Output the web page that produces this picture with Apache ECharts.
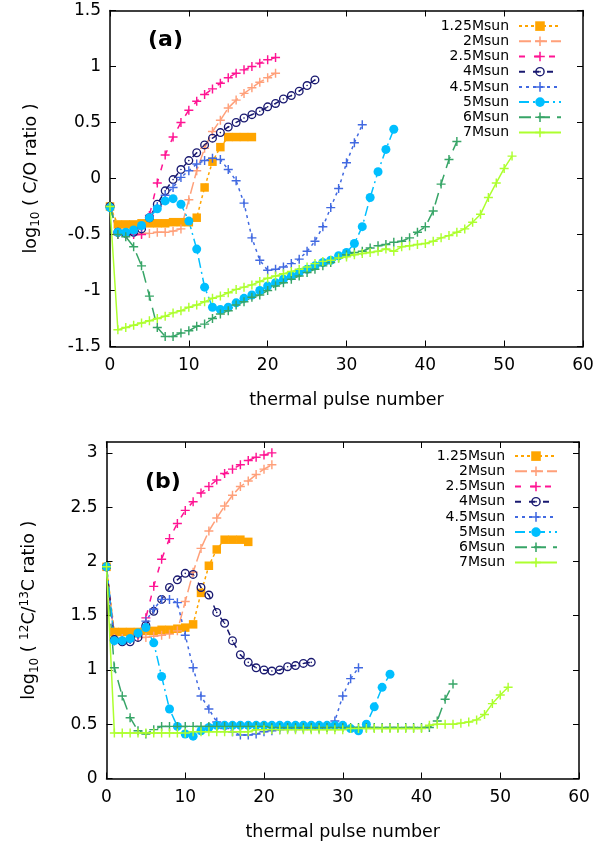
<!DOCTYPE html>
<html>
<head>
<meta charset="utf-8">
<script src="https://cdn.jsdelivr.net/npm/echarts@6/dist/echarts.min.js"></script>
<style>
html, body { margin: 0; padding: 0; background: #fff; }
#chart { width: 614px; height: 844px; }
</style>
</head>
<body>
<div id="chart"></div>
<script>
// legend names (one per stellar mass)
var masses = ["1.25Msun", "2Msun", "2.5Msun", "4Msun", "4.5Msun", "5Msun", "6Msun", "7Msun"];
var xTicks = [0, 10, 20, 30, 40, 50, 60];

// panel (a): log10 C/O, index = thermal pulse number
var co125 = [-0.25, -0.41, -0.41, -0.41, -0.40, -0.40, -0.40, -0.40, -0.39, -0.39, -0.39, -0.35, -0.08, 0.15, 0.28, 0.37, 0.37, 0.37, 0.37];
var co2 = [-0.25, -0.49, -0.49, -0.49, -0.49, -0.49, -0.48, -0.48, -0.47, -0.45, -0.19, 0.07, 0.27, 0.42, 0.52, 0.63, 0.70, 0.76, 0.81, 0.86, 0.90, 0.94];
var co25 = [-0.25, -0.50, -0.50, -0.50, -0.50, -0.33, -0.04, 0.21, 0.37, 0.50, 0.61, 0.69, 0.75, 0.80, 0.85, 0.90, 0.94, 0.97, 1.00, 1.03, 1.06, 1.08];
var co4 = [-0.25, -0.48, -0.49, -0.48, -0.45, -0.35, -0.23, -0.11, -0.01, 0.08, 0.16, 0.23, 0.30, 0.36, 0.41, 0.46, 0.50, 0.54, 0.57, 0.60, 0.64, 0.67, 0.71, 0.74, 0.78, 0.83, 0.88];
var co45 = [-0.25, -0.48, -0.49, -0.48, -0.44, -0.35, -0.25, -0.15, -0.08, 0.01, 0.07, 0.13, 0.16, 0.18, 0.17, 0.08, -0.02, -0.22, -0.53, -0.73, -0.82, -0.81, -0.79, -0.76, -0.72, -0.65, -0.56, -0.43, -0.26, -0.09, 0.14, 0.32, 0.48];
var co5 = [-0.26, -0.48, -0.48, -0.46, -0.42, -0.35, -0.27, -0.20, -0.18, -0.23, -0.38, -0.63, -0.97, -1.15, -1.17, -1.15, -1.11, -1.07, -1.04, -1.00, -0.96, -0.93, -0.90, -0.87, -0.84, -0.81, -0.78, -0.75, -0.73, -0.69, -0.66, -0.58, -0.43, -0.17, 0.06, 0.26, 0.44];
var co6 = [-0.25, -0.50, -0.52, -0.61, -0.78, -1.05, -1.33, -1.41, -1.41, -1.38, -1.36, -1.32, -1.30, -1.25, -1.21, -1.18, -1.13, -1.10, -1.06, -1.04, -1.00, -0.96, -0.93, -0.90, -0.87, -0.84, -0.81, -0.78, -0.75, -0.71, -0.68, -0.66, -0.65, -0.62, -0.60, -0.59, -0.57, -0.56, -0.53, -0.48, -0.43, -0.29, -0.05, 0.17, 0.33];
var co7 = [-0.25, -1.35, -1.33, -1.31, -1.29, -1.27, -1.25, -1.23, -1.20, -1.18, -1.15, -1.13, -1.10, -1.07, -1.05, -1.02, -0.99, -0.97, -0.95, -0.92, -0.89, -0.87, -0.85, -0.83, -0.81, -0.79, -0.76, -0.74, -0.73, -0.71, -0.70, -0.68, -0.67, -0.66, -0.65, -0.63, -0.65, -0.61, -0.60, -0.59, -0.58, -0.56, -0.53, -0.51, -0.48, -0.45, -0.39, -0.32, -0.17, -0.04, 0.09, 0.20];

// panel (b): log10 12C/13C
var cc125 = [1.95, 1.35, 1.35, 1.35, 1.35, 1.36, 1.36, 1.37, 1.37, 1.38, 1.39, 1.42, 1.71, 1.96, 2.11, 2.20, 2.20, 2.20, 2.18];
var cc2 = [1.95, 1.29, 1.29, 1.29, 1.30, 1.30, 1.31, 1.32, 1.33, 1.36, 1.63, 1.90, 2.12, 2.28, 2.40, 2.51, 2.61, 2.69, 2.74, 2.80, 2.85, 2.89];
var cc25 = [1.95, 1.27, 1.27, 1.28, 1.32, 1.48, 1.77, 2.02, 2.21, 2.35, 2.47, 2.55, 2.63, 2.69, 2.75, 2.81, 2.85, 2.89, 2.93, 2.96, 2.98, 3.00];
var cc4 = [1.95, 1.28, 1.26, 1.26, 1.30, 1.41, 1.54, 1.65, 1.76, 1.83, 1.89, 1.88, 1.76, 1.69, 1.53, 1.43, 1.27, 1.14, 1.07, 1.02, 1.00, 0.99, 1.00, 1.03, 1.04, 1.06, 1.07];
var cc45 = [1.95, 1.27, 1.27, 1.28, 1.33, 1.45, 1.56, 1.65, 1.65, 1.62, 1.32, 1.02, 0.76, 0.64, 0.52, 0.46, 0.43, 0.40, 0.40, 0.41, 0.43, 0.44, 0.45, 0.46, 0.46, 0.46, 0.46, 0.46, 0.47, 0.53, 0.76, 0.92, 1.02];
var cc5 = [1.95, 1.27, 1.27, 1.29, 1.34, 1.39, 1.25, 0.94, 0.64, 0.48, 0.41, 0.39, 0.44, 0.47, 0.49, 0.49, 0.49, 0.49, 0.49, 0.49, 0.49, 0.49, 0.49, 0.49, 0.49, 0.49, 0.49, 0.49, 0.49, 0.49, 0.49, 0.46, 0.44, 0.50, 0.66, 0.84, 0.96];
var cc6 = [1.95, 1.02, 0.76, 0.56, 0.44, 0.41, 0.45, 0.48, 0.48, 0.48, 0.48, 0.48, 0.48, 0.48, 0.48, 0.48, 0.48, 0.48, 0.48, 0.48, 0.48, 0.47, 0.47, 0.47, 0.47, 0.47, 0.47, 0.47, 0.47, 0.47, 0.47, 0.47, 0.47, 0.47, 0.47, 0.47, 0.47, 0.47, 0.47, 0.47, 0.47, 0.47, 0.53, 0.73, 0.87];
var cc7 = [1.95, 0.42, 0.42, 0.42, 0.42, 0.42, 0.42, 0.42, 0.42, 0.42, 0.42, 0.43, 0.43, 0.43, 0.43, 0.43, 0.43, 0.43, 0.43, 0.45, 0.45, 0.45, 0.45, 0.45, 0.45, 0.45, 0.45, 0.45, 0.45, 0.45, 0.45, 0.46, 0.46, 0.46, 0.46, 0.46, 0.46, 0.46, 0.46, 0.46, 0.46, 0.49, 0.50, 0.50, 0.50, 0.51, 0.52, 0.54, 0.59, 0.69, 0.77, 0.84];

var FONT = "DejaVu Sans";
var PLUS = "path://M4.2,0h1.6v4.2h4.2v1.6h-4.2v4.2h-1.6v-4.2h-4.2v-1.6h4.2z";
var RING = "path://M5,0A5,5 0 1,1 5,10A5,5 0 1,1 5,0Z M5,1.5A3.5,3.5 0 1,0 5,8.5A3.5,3.5 0 1,0 5,1.5Z M5,4.1A0.9,0.9 0 1,1 5,5.9A0.9,0.9 0 1,1 5,4.1Z";

// line style of each mass: colour, dash, symbol, symbol size
var styles = [
  { color: "#FFA500", dash: [3, 3], symbol: "rect", size: 8.5 },
  { color: "#FFA07A", dash: [12, 4], symbol: PLUS, size: 9 },
  { color: "#FF1493", dash: [6, 9], symbol: PLUS, size: 9 },
  { color: "#191970", dash: [6, 8], symbol: RING, size: 9 },
  { color: "#4169E1", dash: [3, 4], symbol: PLUS, size: 9 },
  { color: "#00BFFF", dash: [10, 4, 2, 4], symbol: "circle", size: 9 },
  { color: "#37A567", dash: [12, 7], symbol: PLUS, size: 9 },
  { color: "#ADFF2F", dash: "solid", symbol: PLUS, size: 9 }
];

var panelA = [co125, co2, co25, co4, co45, co5, co6, co7];
var panelB = [cc125, cc2, cc25, cc4, cc45, cc5, cc6, cc7];

function pairs(arr) {
  return arr.map(function (v, i) { return [i, v]; });
}

function makeSeries(values, k, axisIdx) {
  var st = styles[k];
  return {
    name: masses[k],
    type: "line",
    xAxisIndex: axisIdx,
    yAxisIndex: axisIdx,
    data: pairs(values),
    symbol: st.symbol,
    symbolSize: st.size,
    showAllSymbol: true,
    lineStyle: { color: st.color, width: 1.5, type: st.dash },
    itemStyle: { color: st.color },
    emphasis: { disabled: true }
  };
}

var series = [];
panelA.forEach(function (v, k) { series.push(makeSeries(v, k, 0)); });
panelB.forEach(function (v, k) { series.push(makeSeries(v, k, 2)); });

var tickStyle = { show: true, inside: true, length: 6, lineStyle: { color: "#000", width: 1 } };
var lineBorder = { show: true, onZero: false, lineStyle: { color: "#000", width: 1.5 } };
var labelStyle = { color: "#000", fontFamily: FONT, fontSize: 17 };

function xAxes(grid) {
  return [
    {
      gridIndex: grid, type: "value", position: "bottom", min: 0, max: 60, interval: 10,
      name: "thermal pulse number", nameLocation: "middle", nameGap: 45,
      nameTextStyle: { color: "#000", fontFamily: FONT, fontSize: 17.5 },
      axisLine: lineBorder, axisTick: tickStyle, splitLine: { show: false },
      axisLabel: Object.assign({ margin: 11 }, labelStyle)
    },
    {
      gridIndex: grid, type: "value", position: "top", min: 0, max: 60, interval: 10,
      axisLine: lineBorder, axisTick: tickStyle, splitLine: { show: false },
      axisLabel: { show: false }
    }
  ];
}

function yAxes(grid, min, max, nameRich, gap) {
  return [
    {
      gridIndex: grid, type: "value", position: "left", min: min, max: max, interval: 0.5,
      name: nameRich, nameLocation: "middle", nameGap: gap,
      nameTextStyle: {
        color: "#000", fontFamily: FONT, fontSize: 17.5,
        rich: {
          m: { fontFamily: FONT, fontSize: 17.5, lineHeight: 22, color: "#000" },
          s: { fontFamily: FONT, fontSize: 12, lineHeight: 12, verticalAlign: "bottom", color: "#000" },
          p: { fontFamily: FONT, fontSize: 12, lineHeight: 12, verticalAlign: "top", color: "#000" }
        }
      },
      axisLine: lineBorder, axisTick: tickStyle, splitLine: { show: false },
      axisLabel: Object.assign({ margin: 9, showMaxLabel: max === 1.5 }, labelStyle)
    },
    {
      gridIndex: grid, type: "value", position: "right", min: min, max: max, interval: 0.5,
      axisLine: lineBorder, axisTick: tickStyle, splitLine: { show: false },
      axisLabel: { show: false }
    }
  ];
}

var legendBase = {
  orient: "vertical",
  align: "right",
  padding: 0,
  itemWidth: 42,
  itemHeight: 12,
  itemGap: 0,
  selectedMode: false,
  data: masses,
  textStyle: { color: "#000", fontFamily: FONT, fontSize: 14, lineHeight: 15.2, padding: [0, 5, 0, 0] }
};

var option = {
  animation: false,
  backgroundColor: "#fff",
  grid: [
    { left: 110, top: 10.5, width: 473, height: 336 },
    { left: 106.5, top: 442, width: 472.5, height: 336.5 }
  ],
  xAxis: xAxes(0).concat(xAxes(1)),
  yAxis: yAxes(0, -1.5, 1.5, "{m|log}{s|10}{m| ( C/O ratio )}", 68)
    .concat(yAxes(1, 0, 3.1, "{m|log}{s|10}{m| ( }{p|12}{m|C/}{p|13}{m|C ratio )}", 66)),
  legend: [
    Object.assign({ right: 52, top: 18.5 }, legendBase),
    Object.assign({ right: 56, top: 448.5 }, legendBase)
  ],
  graphic: [
    { type: "text", left: 148, top: 29, style: { text: "(a)", font: "bold 22px 'DejaVu Sans'", fill: "#000" } },
    { type: "text", left: 145, top: 471, style: { text: "(b)", font: "bold 22px 'DejaVu Sans'", fill: "#000" } }
  ],
  series: series
};

var chart = echarts.init(document.getElementById("chart"), null, { renderer: "canvas" });
chart.setOption(option);
</script>
</body>
</html>
